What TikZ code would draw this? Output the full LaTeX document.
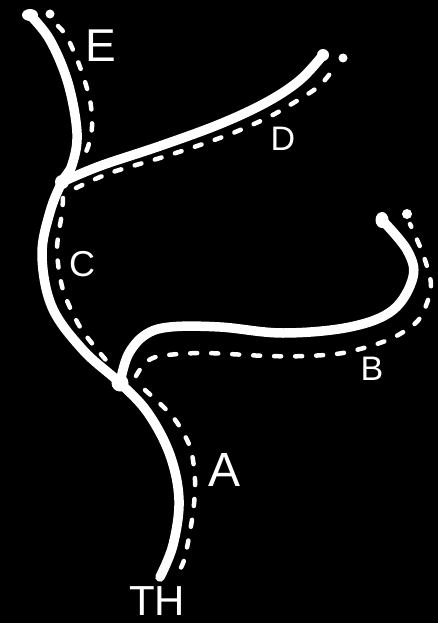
\documentclass[tikz,border=0pt]{standalone}
\usepackage{fontspec}
\setmainfont{Liberation Sans}
\begin{document}
\begin{tikzpicture}[x=1pt,y=-1pt,
  branch/.style={draw=white,line width=9.5pt,line cap=round,line join=round},
  trail/.style={draw=white,line width=4.5pt,line cap=round,dash pattern=on 7pt off 14pt},
  blob/.style={fill=white},
  lbl/.style={text=white,inner sep=0pt,font=\fontsize{#1}{#1}\selectfont},
  lbl/.default=36]
\fill[black] (0,0) rectangle (438,623);
\useasboundingbox (0,0) rectangle (438,623);
% named points
\coordinate (etop) at (30,15);
\coordinate (jcd) at (62,182);
\coordinate (jab) at (120,383);
\coordinate (dtip) at (323,55);
\coordinate (btip) at (382,220);
\coordinate (th) at (160,577);
% solid branches
\draw[branch] plot[smooth,tension=0.6] coordinates {(etop) (50,40) (68,83) (77,133) (72,165) (jcd) (50,212) (42,255) (52,307) (83,350) (jab) (148,413) (170,455) (179,500) (173,545) (th)};
\draw[branch] plot[smooth,tension=0.6] coordinates {(jcd) (100,166) (160,146) (220,124) (267,102) (300,80) (dtip)};
\draw[branch] plot[smooth,tension=0.6] coordinates {(jab) (128,355) (145,335) (170,327) (220,327) (283,333) (350,327) (393,310) (413,277) (407,250) (btip)};
% blobs
\fill[blob] (etop) ellipse (8pt and 6pt);
\fill[blob] (dtip) circle (6pt);
\fill[blob] (btip) ellipse (6.5pt and 8pt);
\fill[blob] (jcd) circle (7pt);
\fill[blob] (jab) circle (8.5pt);
% dashed trails
\coordinate (edot) at (50,14);
\coordinate (ddot) at (343,58);
\coordinate (bdot) at (407,214);
\draw[trail] plot[smooth] coordinates {(58,26) (67,37) (80,67) (90,100) (92,127) (88,147) (83,157)};
\draw[trail] plot[smooth] coordinates {(76,188) (110,173) (160,158) (200,145) (233,133) (267,118) (290,105) (318,87) (333,70) (338,64)};
\draw[trail] plot[smooth] coordinates {(63,198) (62,213) (57,250) (63,290) (80,327) (100,353) (113,368)};
\draw[trail] plot[smooth] coordinates {(136,376) (145,363) (160,356) (203,353) (267,356) (307,356) (343,353) (377,344) (400,334) (420,318) (431,287) (424,257) (414,233) (410,224)};
\draw[trail] plot[smooth] coordinates {(145,390) (173,417) (190,447) (195,480) (193,513) (185,557) (179,571)};
\fill[blob] (edot) circle (4.5pt);
\fill[blob] (ddot) circle (4.5pt);
\fill[blob] (bdot) circle (5pt);
% labels
\node[lbl=46] (le) at (101,46) {E};
\node[lbl=34] (ld) at (283,139) {D};
\node[lbl=36] (lc) at (82,264) {C};
\node[lbl=34] (lb) at (372,369) {B};
\node[lbl=48] (la) at (225,470) {A};
\node[lbl=42] (lth) at (157,601) {TH};
\end{tikzpicture}
\end{document}
